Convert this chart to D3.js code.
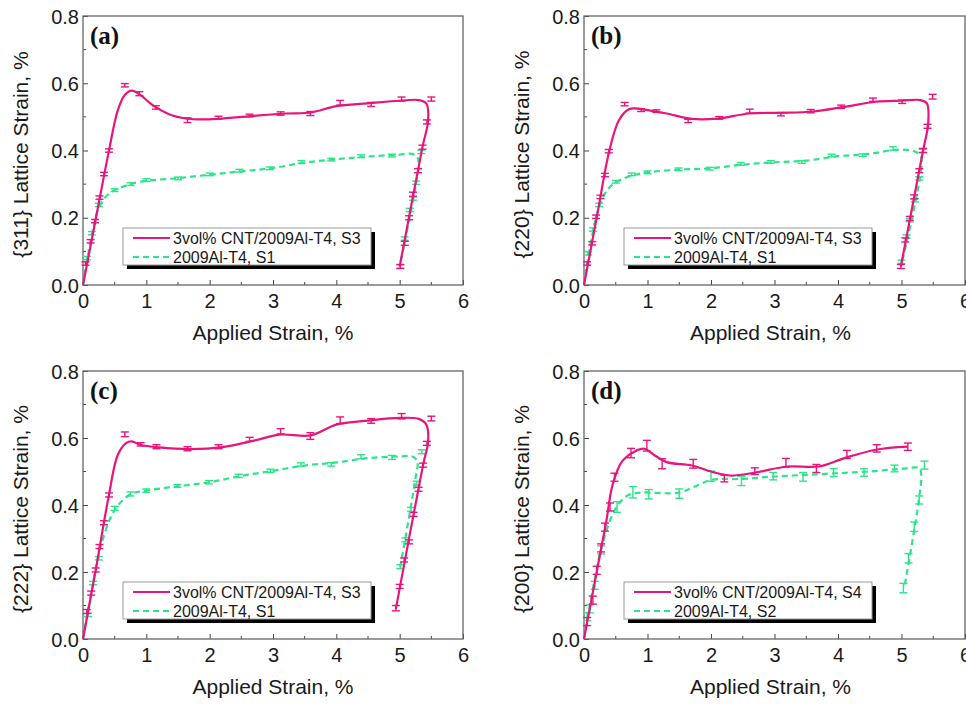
<!DOCTYPE html>
<html><head><meta charset="utf-8">
<script src="https://cdn.jsdelivr.net/npm/d3@7"></script>
<style>body{margin:0;background:#fff}svg{display:block}</style>
</head><body>
<script>
// ---------- data ----------
const xTicks = [0,1,2,3,4,5,6];
const yTicks = [0.0,0.2,0.4,0.6,0.8];
const panelLabels = ["(a)","(b)","(c)","(d)"];
const yTitles = ["{311} Lattice Strain, %","{220} Lattice Strain, %","{222} Lattice Strain, %","{200} Lattice Strain, %"];
const cntNames = ["3vol% CNT/2009Al-T4, S3","3vol% CNT/2009Al-T4, S3","3vol% CNT/2009Al-T4, S3","3vol% CNT/2009Al-T4, S4"];
const alNames = ["2009Al-T4, S1","2009Al-T4, S1","2009Al-T4, S1","2009Al-T4, S2"];

// measured points [applied strain, lattice strain, error]
const cntPtsA = [[0.04,0.064,0.005],[0.12,0.13,0.005],[0.19,0.19,0.005],[0.26,0.26,0.005],[0.33,0.33,0.005],[0.41,0.40,0.005],[0.66,0.594,0.005],[0.89,0.569,0.006],[1.15,0.528,0.005],[1.65,0.49,0.007],[2.14,0.498,0.004],[2.63,0.504,0.004],[3.12,0.51,0.005],[3.59,0.51,0.006],[4.06,0.542,0.007],[4.55,0.537,0.006],[5.03,0.553,0.006],[5.5,0.553,0.006],[5.43,0.485,0.006],[5.36,0.41,0.006],[5.29,0.34,0.006],[5.21,0.27,0.006],[5.15,0.2,0.006],[5.08,0.124,0.006],[5.01,0.055,0.006]];
const alPtsA = [[0.06,0.08,0.005],[0.14,0.154,0.005],[0.25,0.238,0.005],[0.5,0.282,0.004],[0.75,0.3,0.004],[1.0,0.312,0.004],[1.5,0.317,0.004],[2.0,0.329,0.004],[2.47,0.34,0.004],[2.95,0.347,0.004],[3.45,0.366,0.004],[3.92,0.373,0.004],[4.39,0.383,0.004],[4.88,0.385,0.004],[5.34,0.396,0.005],[5.26,0.304,0.005],[5.21,0.257,0.005],[5.16,0.223,0.005],[5.08,0.138,0.005],[5.01,0.055,0.005]];
const cntPtsB = [[0.05,0.064,0.005],[0.13,0.124,0.005],[0.19,0.203,0.005],[0.26,0.262,0.005],[0.33,0.327,0.005],[0.39,0.398,0.005],[0.64,0.538,0.005],[0.9,0.52,0.004],[1.14,0.517,0.004],[1.64,0.488,0.005],[2.13,0.497,0.004],[2.61,0.517,0.006],[3.1,0.508,0.005],[3.57,0.517,0.005],[4.05,0.53,0.005],[4.55,0.551,0.005],[5.01,0.545,0.005],[5.49,0.56,0.007],[5.41,0.472,0.006],[5.34,0.4,0.006],[5.28,0.34,0.006],[5.2,0.262,0.006],[5.13,0.198,0.006],[5.06,0.134,0.006],[4.99,0.055,0.006]];
const alPtsB = [[0.06,0.094,0.005],[0.14,0.165,0.005],[0.24,0.238,0.005],[0.5,0.307,0.004],[0.75,0.329,0.004],[1.0,0.335,0.004],[1.49,0.344,0.004],[1.98,0.346,0.004],[2.47,0.36,0.004],[2.94,0.366,0.004],[3.43,0.366,0.004],[3.9,0.385,0.004],[4.39,0.386,0.004],[4.87,0.406,0.005],[5.33,0.399,0.005],[5.28,0.317,0.005],[5.21,0.252,0.005],[5.13,0.193,0.005],[5.08,0.144,0.005],[5.0,0.069,0.005]];
const cntPtsC = [[0.06,0.082,0.006],[0.13,0.137,0.006],[0.2,0.206,0.006],[0.26,0.276,0.006],[0.33,0.347,0.006],[0.41,0.43,0.006],[0.66,0.611,0.007],[0.91,0.581,0.005],[1.16,0.574,0.006],[1.65,0.568,0.006],[2.14,0.574,0.006],[2.63,0.596,0.006],[3.12,0.62,0.008],[3.59,0.606,0.01],[4.06,0.653,0.01],[4.55,0.651,0.007],[5.03,0.665,0.008],[5.5,0.658,0.007],[5.43,0.584,0.006],[5.37,0.519,0.006],[5.3,0.447,0.006],[5.22,0.372,0.006],[5.15,0.29,0.006],[5.07,0.236,0.006],[5.0,0.157,0.006],[4.94,0.092,0.008]];
const alPtsC = [[0.08,0.072,0.005],[0.16,0.167,0.005],[0.25,0.241,0.005],[0.5,0.39,0.006],[0.75,0.433,0.006],[1.0,0.443,0.005],[1.49,0.457,0.004],[1.99,0.468,0.005],[2.46,0.487,0.005],[2.96,0.502,0.005],[3.44,0.521,0.005],[3.92,0.521,0.005],[4.39,0.544,0.006],[4.88,0.542,0.006],[5.35,0.559,0.006],[5.27,0.465,0.006],[5.18,0.387,0.006],[5.09,0.296,0.006],[5.01,0.216,0.006]];
const cntPtsD = [[0.05,0.052,0.012],[0.14,0.116,0.012],[0.2,0.205,0.012],[0.27,0.272,0.012],[0.33,0.334,0.012],[0.41,0.394,0.012],[0.48,0.483,0.012],[0.74,0.555,0.014],[0.99,0.577,0.016],[1.23,0.523,0.015],[1.72,0.523,0.013],[2.21,0.479,0.01],[2.69,0.501,0.01],[3.18,0.526,0.013],[3.66,0.509,0.012],[4.14,0.551,0.012],[4.61,0.569,0.011],[5.1,0.574,0.011]];
const alPtsD = [[0.05,0.067,0.012],[0.09,0.09,0.012],[0.17,0.16,0.012],[0.27,0.266,0.012],[0.52,0.394,0.016],[0.77,0.438,0.017],[1.02,0.432,0.014],[1.5,0.434,0.014],[2.0,0.486,0.015],[2.48,0.472,0.014],[2.98,0.486,0.011],[3.45,0.484,0.013],[3.93,0.497,0.012],[4.41,0.497,0.011],[4.89,0.509,0.01],[5.36,0.519,0.012],[5.28,0.415,0.012],[5.2,0.335,0.014],[5.11,0.241,0.014],[5.03,0.152,0.014]];

// smooth fitted curves [applied strain, lattice strain]
const cntFitA = [[0,0],[0.2,0.195],[0.4,0.39],[0.55,0.52],[0.66,0.565],[0.77,0.578],[0.9,0.566],[1.1,0.535],[1.4,0.505],[1.75,0.493],[2.2,0.495],[2.7,0.503],[3.2,0.51],[3.6,0.513],[4.0,0.532],[4.5,0.54],[5.0,0.548],[5.3,0.55],[5.42,0.54],[5.45,0.49],[5.36,0.41],[5.0,0.055]];
const alFitA = [[0,0],[0.12,0.13],[0.25,0.23],[0.4,0.27],[0.6,0.29],[0.9,0.307],[1.5,0.318],[2.0,0.328],[2.5,0.338],[3.0,0.348],[3.5,0.364],[4.0,0.374],[4.5,0.382],[5.0,0.388],[5.2,0.39],[5.28,0.38],[5.3,0.36],[5.0,0.055]];
const cntFitB = [[0,0],[0.2,0.2],[0.4,0.4],[0.55,0.49],[0.7,0.522],[0.8,0.525],[1.0,0.52],[1.3,0.51],[1.7,0.494],[2.1,0.495],[2.6,0.51],[3.1,0.512],[3.6,0.516],[4.1,0.53],[4.6,0.545],[5.0,0.548],[5.3,0.55],[5.4,0.54],[5.42,0.48],[5.34,0.4],[4.99,0.055]];
const alFitB = [[0,0],[0.12,0.14],[0.25,0.24],[0.4,0.29],[0.6,0.315],[0.9,0.332],[1.5,0.343],[2.0,0.347],[2.5,0.358],[3.0,0.365],[3.5,0.37],[4.0,0.383],[4.5,0.39],[4.9,0.402],[5.2,0.398],[5.3,0.385],[5.32,0.36],[5.0,0.06]];
const cntFitC = [[0,0],[0.2,0.205],[0.4,0.42],[0.55,0.55],[0.68,0.585],[0.77,0.59],[0.9,0.58],[1.2,0.572],[1.7,0.567],[2.2,0.573],[2.7,0.592],[3.1,0.61],[3.6,0.608],[4.0,0.64],[4.5,0.652],[5.0,0.66],[5.3,0.657],[5.42,0.64],[5.45,0.59],[5.37,0.52],[4.94,0.09]];
const alFitC = [[0,0],[0.15,0.16],[0.3,0.29],[0.5,0.385],[0.75,0.432],[1.0,0.443],[1.5,0.456],[2.0,0.468],[2.5,0.487],[3.0,0.502],[3.5,0.518],[4.0,0.527],[4.5,0.54],[5.0,0.545],[5.2,0.545],[5.28,0.53],[5.25,0.48],[5.01,0.216]];
const cntFitD = [[0,0],[0.2,0.2],[0.35,0.35],[0.45,0.46],[0.6,0.53],[0.8,0.56],[0.95,0.568],[1.1,0.55],[1.3,0.528],[1.7,0.518],[2.0,0.5],[2.3,0.488],[2.7,0.497],[3.2,0.515],[3.7,0.515],[4.1,0.54],[4.6,0.565],[5.1,0.574]];
const alFitD = [[0,0],[0.15,0.16],[0.3,0.29],[0.5,0.39],[0.7,0.43],[0.9,0.437],[1.5,0.437],[1.8,0.46],[2.0,0.475],[2.5,0.478],[3.0,0.485],[3.5,0.49],[4.0,0.495],[4.5,0.5],[5.0,0.508],[5.28,0.51],[5.31,0.49],[5.27,0.41],[5.05,0.16]];

const cntPts = [cntPtsA,cntPtsB,cntPtsC,cntPtsD];
const alPts = [alPtsA,alPtsB,alPtsC,alPtsD];
const cntFits = [cntFitA,cntFitB,cntFitC,cntFitD];
const alFits = [alFitA,alFitB,alFitC,alFitD];

// ---------- layout / style ----------
const W = 966, H = 704;
const PINK = "#e8157a", GREEN = "#2be58a";
const FONT = "'Liberation Sans', Arial, sans-serif";
const boxes = [
  {l:83, r:463, t:16, b:285},
  {l:584, r:965, t:16, b:285},
  {l:83, r:463, t:371, b:639},
  {l:584, r:965, t:371, b:639}
];

const svg = d3.select("body").append("svg").attr("width", W).attr("height", H);

boxes.forEach((bx, i) => {
  const x = d3.scaleLinear().domain([0,6]).range([bx.l, bx.r]);
  const y = d3.scaleLinear().domain([0,0.8]).range([bx.b, bx.t]);
  const g = svg.append("g");

  // minor ticks
  const xMinor = d3.range(0.5, 6, 1);
  const yMinor = d3.range(0.1, 0.8, 0.2);
  g.selectAll(".xm").data(xMinor).join("line")
    .attr("x1", d => x(d)).attr("x2", d => x(d)).attr("y1", bx.b).attr("y2", bx.b - 3)
    .attr("stroke", "#444").attr("stroke-width", 1);
  g.selectAll(".ym").data(yMinor).join("line")
    .attr("y1", d => y(d)).attr("y2", d => y(d)).attr("x1", bx.l).attr("x2", bx.l + 3)
    .attr("stroke", "#444").attr("stroke-width", 1);

  // axes (inward ticks)
  const xAxis = d3.axisBottom(x).tickValues(xTicks).tickFormat(d3.format("d")).tickSizeInner(-5).tickSizeOuter(0).tickPadding(9);
  const yAxis = d3.axisLeft(y).tickValues(yTicks).tickFormat(d3.format(".1f")).tickSizeInner(-5).tickSizeOuter(0).tickPadding(4);
  const gx = g.append("g").attr("transform", `translate(0,${bx.b})`).call(xAxis);
  const gy = g.append("g").attr("transform", `translate(${bx.l},0)`).call(yAxis);
  [gx, gy].forEach(a => {
    a.select(".domain").remove();
    a.selectAll("line").attr("stroke", "#444");
    a.selectAll("text").attr("font-family", FONT).attr("font-size", 20).attr("fill", "#1a1a1a");
  });
  gy.selectAll("text").attr("dy", "0.36em");

  // frame
  g.append("rect").attr("x", bx.l).attr("y", bx.t).attr("width", bx.r - bx.l).attr("height", bx.b - bx.t)
    .attr("fill", "none").attr("stroke", "#666").attr("stroke-width", 1.3);

  // axis titles
  g.append("text").attr("x", (bx.l + bx.r) / 2 + (i % 2 ? -4 : 0)).attr("y", bx.b + 55)
    .attr("text-anchor", "middle").attr("font-family", FONT).attr("font-size", 21).attr("fill", "#1a1a1a")
    .text("Applied Strain, %");
  g.append("text").attr("transform", `translate(${bx.l - 55},${(bx.t + bx.b) / 2 + 4}) rotate(-90)`)
    .attr("text-anchor", "middle").attr("font-family", FONT).attr("font-size", 21).attr("fill", "#1a1a1a")
    .text(yTitles[i]);

  // panel label
  g.append("text").attr("x", bx.l + 7).attr("y", bx.t + 28)
    .attr("font-family", "'Liberation Serif', 'Times New Roman', serif").attr("font-weight", "bold")
    .attr("font-size", 25).attr("fill", "#111").text(panelLabels[i]);

  const line = d3.line().x(d => x(d[0])).y(d => y(d[1])).curve(d3.curveCatmullRom.alpha(0.5));

  function drawSeries(pts, fit, color, dashed) {
    const s = g.append("g");
    s.append("path").datum(fit).attr("d", line).attr("fill", "none")
      .attr("stroke", color).attr("stroke-width", 2.2)
      .attr("stroke-dasharray", dashed ? "6,4" : null);
    const eb = s.selectAll(".eb").data(pts).join("g");
    eb.append("line").attr("x1", d => x(d[0])).attr("x2", d => x(d[0]))
      .attr("y1", d => y(d[1] - d[2])).attr("y2", d => y(d[1] + d[2]))
      .attr("stroke", color).attr("stroke-width", 1.4);
    eb.append("line").attr("x1", d => x(d[0]) - 4).attr("x2", d => x(d[0]) + 4)
      .attr("y1", d => y(d[1] - d[2])).attr("y2", d => y(d[1] - d[2]))
      .attr("stroke", color).attr("stroke-width", 1.4);
    eb.append("line").attr("x1", d => x(d[0]) - 4).attr("x2", d => x(d[0]) + 4)
      .attr("y1", d => y(d[1] + d[2])).attr("y2", d => y(d[1] + d[2]))
      .attr("stroke", color).attr("stroke-width", 1.4);
  }
  drawSeries(alPts[i], alFits[i], GREEN, true);
  drawSeries(cntPts[i], cntFits[i], PINK, false);

  // legend
  const lx = bx.l + 40, ly = bx.b - 57, lw = 248, lh = 37;
  const lg = g.append("g");
  lg.append("rect").attr("x", lx + 4).attr("y", ly + 4).attr("width", lw).attr("height", lh).attr("fill", "#000");
  lg.append("rect").attr("x", lx).attr("y", ly).attr("width", lw).attr("height", lh)
    .attr("fill", "#fff").attr("stroke", "#999").attr("stroke-width", 1);
  const entries = [{name: cntNames[i], color: PINK, dash: null, dy: 10},
                   {name: alNames[i], color: GREEN, dash: "6,4", dy: 29}];
  entries.forEach(e => {
    lg.append("line").attr("x1", lx + 10).attr("x2", lx + 47).attr("y1", ly + e.dy).attr("y2", ly + e.dy)
      .attr("stroke", e.color).attr("stroke-width", 2.2).attr("stroke-dasharray", e.dash);
    lg.append("text").attr("x", lx + 50).attr("y", ly + e.dy + 5.5)
      .attr("font-family", FONT).attr("font-size", 16).attr("fill", "#1a1a1a").text(e.name);
  });
});
</script>
</body></html>
